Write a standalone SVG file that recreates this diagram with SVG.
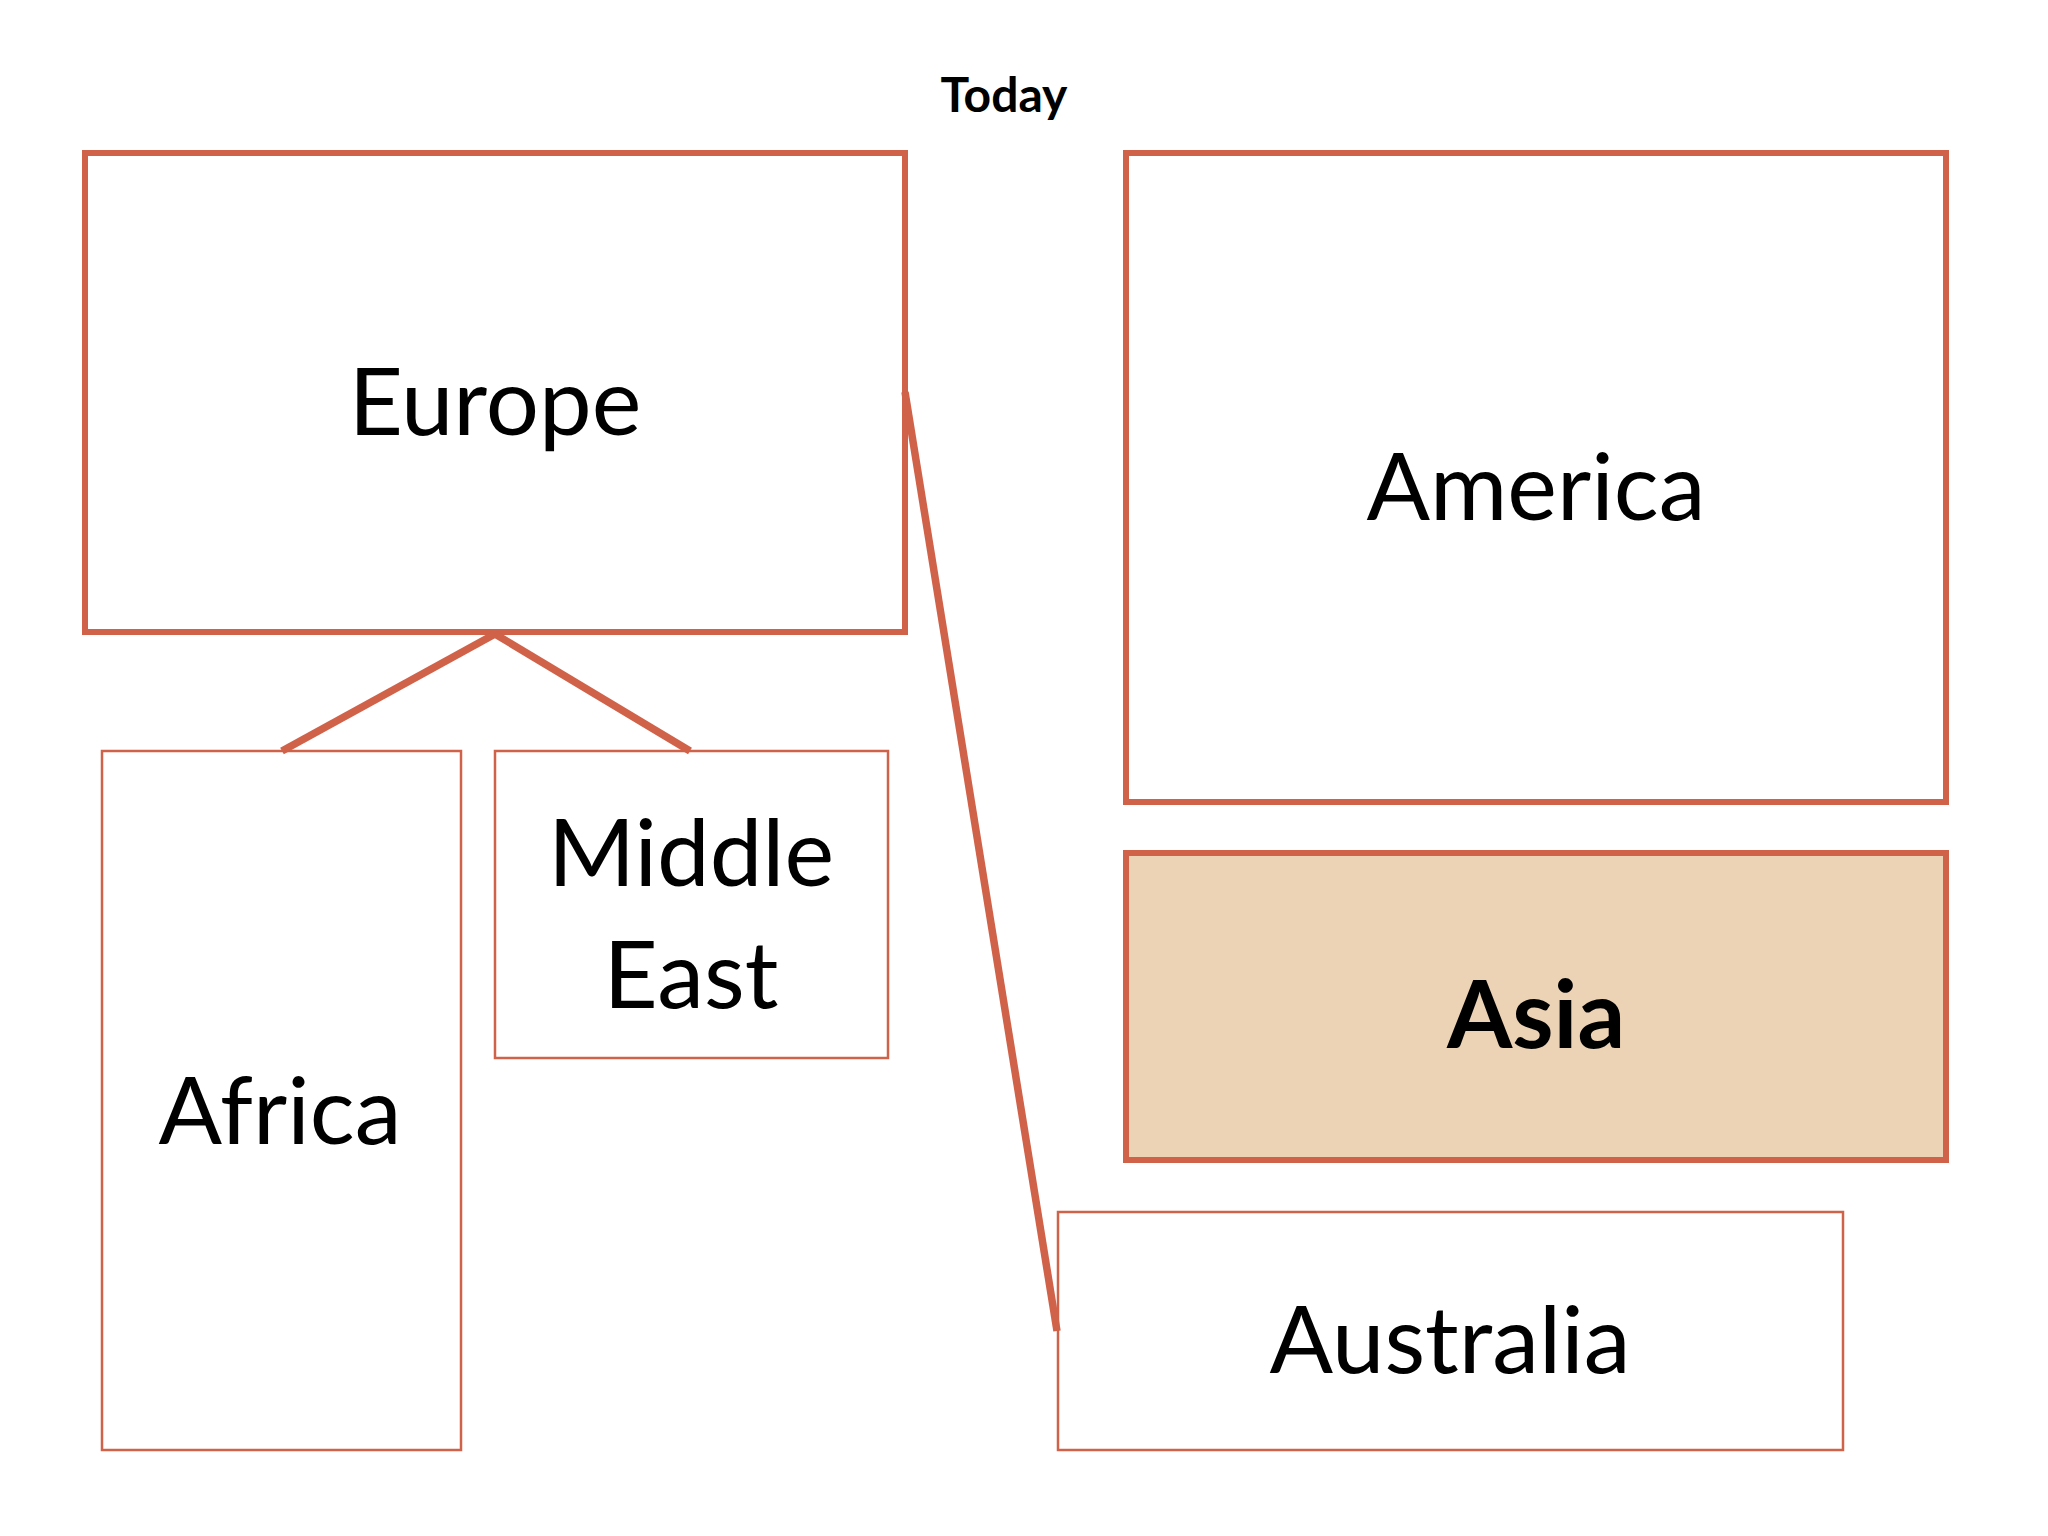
<svg xmlns="http://www.w3.org/2000/svg" width="2048" height="1536" viewBox="0 0 2048 1536">
<style>
.box{fill:#ffffff;stroke:#D0624A}
.thick{stroke-width:6}
.thin{stroke-width:2.5}
.lbl{font-family:Lato,"Open Sans","Liberation Sans",sans-serif;font-size:94px;fill:#000;text-anchor:middle}
.conn{stroke:#D0624A;stroke-width:7.5;fill:none}
</style>
<rect width="2048" height="1536" fill="#ffffff"/>
<text x="1004" y="112" font-family="Lato,'Open Sans','Liberation Sans',sans-serif" font-size="48" font-weight="bold" text-anchor="middle" fill="#000">Today</text>
<g id="europe"><rect class="box thick" x="85" y="153" width="820" height="479"/><text class="lbl" x="495" y="435">Europe</text></g>
<g id="america"><rect class="box thick" x="1126" y="153" width="820" height="649"/><text class="lbl" x="1536" y="520">America</text></g>
<g id="asia"><rect class="box thick" x="1126" y="853" width="820" height="307" style="fill:#EDD3B5"/><text class="lbl" x="1536" y="1048" font-weight="bold">Asia</text></g>
<g id="africa"><rect class="box thin" x="102" y="751" width="359" height="699"/><text class="lbl" x="280" y="1144">Africa</text></g>
<g id="middle-east"><rect class="box thin" x="495" y="751" width="393" height="307"/><text class="lbl" x="691" y="886">Middle</text><text class="lbl" x="691" y="1008">East</text></g>
<g id="australia"><rect class="box thin" x="1058" y="1212" width="785" height="238"/><text class="lbl" x="1450" y="1373">Australia</text></g>
<g id="connectors">
<line class="conn" x1="495" y1="634" x2="282" y2="751"/>
<line class="conn" x1="495" y1="634" x2="690" y2="751"/>
<line class="conn" x1="905" y1="392" x2="1057" y2="1331"/>
</g>
</svg>
